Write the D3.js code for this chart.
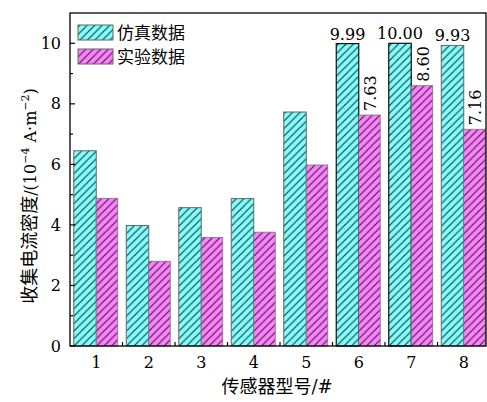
<!DOCTYPE html>
<html><head><meta charset="utf-8">
<script src="https://cdn.jsdelivr.net/npm/d3@7"></script>
<style>body{margin:0;background:#fff}
.sf{font-family:"DejaVu Serif","Liberation Serif",serif}
.cj{font-family:"Noto Sans CJK SC","Noto Sans CJK JP",sans-serif}
</style>
</head><body>
<script>
const categories = ["1","2","3","4","5","6","7","8"];
const simValues = [6.45, 3.98, 4.57, 4.87, 7.73, 9.99, 10.00, 9.93];
const expValues = [4.88, 2.80, 3.59, 3.76, 5.98, 7.63, 8.60, 7.16];
const seriesNames = ["仿真数据", "实验数据"];
const yTicks = [0, 2, 4, 6, 8, 10];
const simLabels = ["", "", "", "", "", "9.99", "10.00", "9.93"];
const expLabels = ["", "", "", "", "", "7.63", "8.60", "7.16"];

const W = 487, H = 402;
const L = 70, R = 486, T = 13, B = 346;

const svg = d3.select("body").append("svg").attr("width", W).attr("height", H);
const defs = svg.append("defs");
function hatch(id, color) {
  const s = 7.5;
  const p = defs.append("pattern").attr("id", id).attr("patternUnits", "userSpaceOnUse")
    .attr("width", s).attr("height", s);
  p.append("rect").attr("width", s).attr("height", s).attr("fill", color);
  p.append("path").attr("d", `M-1,1 l2,-2 M0,${s} l${s},-${s} M${s-1},${s+1} l2,-2`)
    .attr("stroke", "#111").attr("stroke-width", 1.15).attr("stroke-opacity", 0.85);
}
hatch("hc", "#80ffff");
hatch("hm", "#ff80ff");

const x = d3.scaleLinear().domain([0.5, 8.5]).range([L, 490]);
const y = d3.scaleLinear().domain([0, 11]).range([B, B - 11 * 30.27]);
const bw = 22.5;

const g = svg.append("g");
categories.forEach((c, i) => {
  const cx = x(i + 1);
  g.append("rect").attr("x", cx - bw).attr("y", y(simValues[i])).attr("width", bw)
    .attr("height", y(0) - y(simValues[i])).attr("fill", "url(#hc)")
    .attr("stroke", (i === 5 || i === 6) ? "#111" : "#666").attr("stroke-width", (i === 5 || i === 6) ? 1.2 : 1);
  g.append("rect").attr("x", cx).attr("y", y(expValues[i])).attr("width", bw - 1)
    .attr("height", y(0) - y(expValues[i])).attr("fill", "url(#hm)")
    .attr("stroke", "#777").attr("stroke-width", 0.8);
  if (simLabels[i]) {
    svg.append("text").attr("class", "sf").attr("x", cx - bw / 2).attr("y", y(simValues[i]) - 4)
      .attr("text-anchor", "middle").attr("font-size", 16)
      .text(simLabels[i]);
  }
  if (expLabels[i]) {
    const tx = cx + bw / 2 + 6, ty = y(expValues[i]) - 4;
    svg.append("text").attr("class", "sf").attr("transform", `translate(${tx},${ty}) rotate(-90)`)
      .attr("font-size", 16).text(expLabels[i]);
  }
});

// frame
svg.append("rect").attr("x", L).attr("y", T).attr("width", R - L).attr("height", B - T)
  .attr("fill", "none").attr("stroke", "#000").attr("stroke-width", 1.3);

// y ticks (inward)
d3.range(0, 11, 1).forEach(v => {
  const len = v % 2 === 0 ? 5 : 3;
  svg.append("line").attr("x1", L).attr("x2", L + len).attr("y1", y(v)).attr("y2", y(v))
    .attr("stroke", "#000").attr("stroke-width", 1.2);
});
yTicks.forEach(v => {
  svg.append("text").attr("class", "sf").attr("x", 61).attr("y", y(v)).attr("dy", "0.35em")
    .attr("text-anchor", "end").attr("font-size", 16).text(v);
});
// x ticks at boundaries
d3.range(1, 8).forEach(k => {
  svg.append("line").attr("x1", x(k + 0.5)).attr("x2", x(k + 0.5)).attr("y1", B).attr("y2", B - 4)
    .attr("stroke", "#000").attr("stroke-width", 1.2);
});
categories.forEach((c, i) => {
  svg.append("text").attr("class", "sf").attr("x", x(i + 1)).attr("y", 368).attr("text-anchor", "middle")
    .attr("font-size", 16).text(c);
});

// axis titles
const xl = svg.append("text").attr("x", 277).attr("y", 393).attr("text-anchor", "middle").attr("font-size", 18);
xl.append("tspan").attr("class", "cj").text("传感器型号");
xl.append("tspan").attr("class", "sf").text("/#");
const yl = svg.append("text").attr("transform", "translate(36,196) rotate(-90)")
  .attr("text-anchor", "middle").attr("font-size", 18);
yl.append("tspan").attr("class", "cj").text("收集电流密度");
yl.append("tspan").attr("class", "sf").attr("font-size", 16).text("/(10");
yl.append("tspan").attr("class", "sf").attr("font-size", 11).attr("dy", -7).text("−4");
yl.append("tspan").attr("class", "sf").attr("font-size", 16).attr("dy", 7).text(" A·m");
yl.append("tspan").attr("class", "sf").attr("font-size", 11).attr("dy", -7).text("−2");
yl.append("tspan").attr("class", "sf").attr("font-size", 16).attr("dy", 7).text(")");

// legend
[["url(#hc)", 25], ["url(#hm)", 49]].forEach(([f, ly], k) => {
  svg.append("rect").attr("x", 78).attr("y", ly).attr("width", 35).attr("height", 15)
    .attr("fill", f).attr("stroke", "#666").attr("stroke-width", 1);
  svg.append("text").attr("class", "cj").attr("x", 117).attr("y", ly + 7.5).attr("dy", "0.36em")
    .attr("font-size", 17).text(seriesNames[k]);
});
</script>
</body></html>
